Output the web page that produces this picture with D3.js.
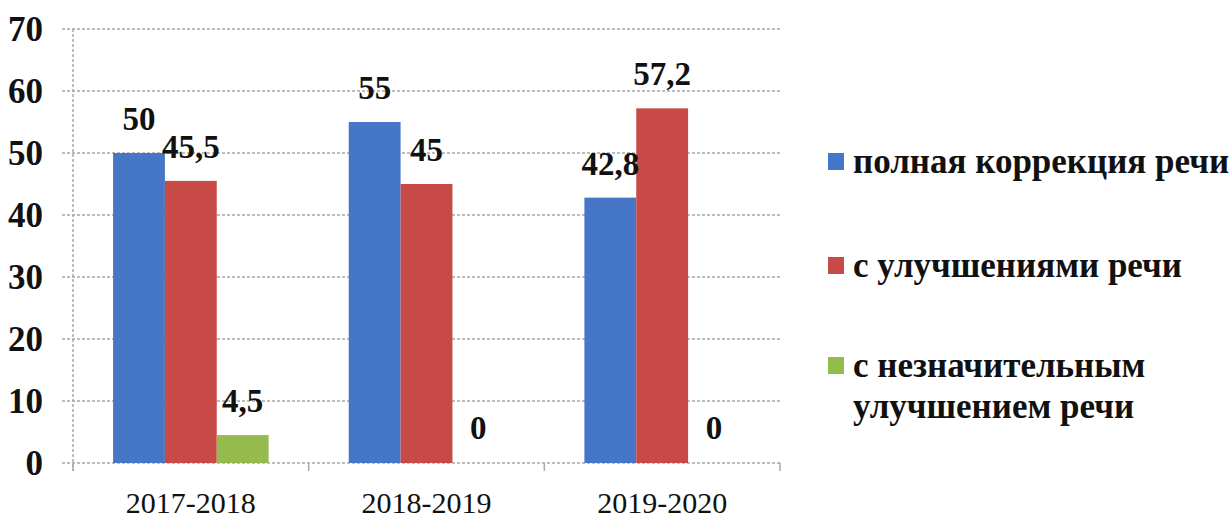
<!DOCTYPE html>
<html>
<head>
<meta charset="utf-8">
<script src="https://cdn.jsdelivr.net/npm/d3@7"></script>
<style>
  body { margin: 0; background: #fff; }
  svg { display: block; }
  svg text { font-family: 'Liberation Serif', 'Times New Roman', serif; }
</style>
</head>
<body>
<div id="chart"></div>
<script>
// categories, series and ticks
const years = ['2017-2018', '2018-2019', '2019-2020'];
const seriesNames = ['полная коррекция речи', 'с улучшениями речи', 'с незначительным улучшением речи'];
const fullCorrection = [50, 55, 42.8];
const improved = [45.5, 45, 57.2];
const slight = [4.5, 0, 0];
const yTicks = [0, 10, 20, 30, 40, 50, 60, 70];
const colors = ['#4676c6', '#c84a47', '#95bb4f'];
const legendLines = [['полная коррекция речи'], ['с улучшениями речи'], ['с незначительным', 'улучшением речи']];

const series = [fullCorrection, improved, slight];
const rows = [];
years.forEach((y, i) => {
  series.forEach((s, k) => rows.push({ year: y, key: k, value: s[i] }));
});

const W = 1232, H = 520;
const margin = { top: 29, left: 73, right: 452, bottom: 57 };
const width = W - margin.left - margin.right;
const height = H - margin.top - margin.bottom;

const svg = d3.select('#chart').append('svg')
  .attr('width', W)
  .attr('height', H);

const g = svg.append('g').attr('transform', `translate(${margin.left},${margin.top})`);

const x0 = d3.scaleBand().domain(years).range([0, width]).padding(0);
const x1 = d3.scaleBand().domain([0, 1, 2])
  .range([x0.bandwidth() * 0.17, x0.bandwidth() * 0.83]).padding(0);
const y = d3.scaleLinear().domain([0, 70]).range([height, 0]);

// gridlines
g.append('g')
  .selectAll('line')
  .data(yTicks)
  .enter().append('line')
  .attr('x1', -11)
  .attr('x2', width)
  .attr('y1', d => y(d))
  .attr('y2', d => y(d))
  .attr('stroke', '#a8a8a8')
  .attr('stroke-width', 1.5)
  .attr('stroke-dasharray', '3,2');

// y axis
const yAxis = g.append('g')
  .call(d3.axisLeft(y).tickValues(yTicks).tickSize(0).tickPadding(30));
yAxis.attr('font-family', null);
yAxis.select('.domain').remove();
yAxis.selectAll('text')
  .attr('font-weight', 'bold')
  .attr('font-size', 35)
  .attr('fill', '#111');
g.append('line')
  .attr('x1', 0).attr('x2', 0)
  .attr('y1', 0).attr('y2', height + 8)
  .attr('stroke', '#a8a8a8')
  .attr('stroke-width', 1.5)
  .attr('stroke-dasharray', '3,2');

// x axis
const xAxis = g.append('g')
  .attr('transform', `translate(0,${height})`)
  .call(d3.axisBottom(x0).tickSize(0).tickPadding(29));
xAxis.attr('font-family', null);
xAxis.select('.domain').remove();
xAxis.selectAll('text')
  .attr('font-size', 30)
  .attr('fill', '#111');
g.append('g')
  .selectAll('line')
  .data([0, 1, 2, 3])
  .enter().append('line')
  .attr('x1', d => d * x0.step())
  .attr('x2', d => d * x0.step())
  .attr('y1', height)
  .attr('y2', height + 8)
  .attr('stroke', '#a8a8a8')
  .attr('stroke-width', 1.5);

// bars
g.selectAll('.bar')
  .data(rows)
  .enter().append('rect')
  .attr('class', 'bar')
  .attr('x', d => x0(d.year) + x1(d.key))
  .attr('y', d => y(d.value))
  .attr('width', x1.bandwidth())
  .attr('height', d => height - y(d.value))
  .attr('fill', d => colors[d.key]);

// value labels
g.selectAll('.lbl')
  .data(rows)
  .enter().append('text')
  .attr('class', 'lbl')
  .attr('x', d => x0(d.year) + x1(d.key) + x1.bandwidth() / 2)
  .attr('y', d => y(d.value) - (d.value === 0 ? 24 : 23))
  .attr('text-anchor', 'middle')
  .attr('font-weight', 'bold')
  .attr('font-size', 33)
  .attr('fill', '#111')
  .text(d => String(d.value).replace('.', ','));

// legend
const legend = svg.append('g').attr('transform', 'translate(828,0)');
const legendY = [173, 277, 377];
legendLines.forEach((lines, i) => {
  const row = legend.append('g').attr('transform', `translate(0,${legendY[i]})`);
  row.append('rect')
    .attr('x', 0).attr('y', -20)
    .attr('width', 16).attr('height', 17)
    .attr('fill', colors[i]);
  lines.forEach((t, j) => {
    row.append('text')
      .attr('x', 25)
      .attr('y', j * 41)
      .attr('font-weight', 'bold')
      .attr('font-size', 35)
      .attr('fill', '#111')
      .text(t);
  });
});
</script>
</body>
</html>
